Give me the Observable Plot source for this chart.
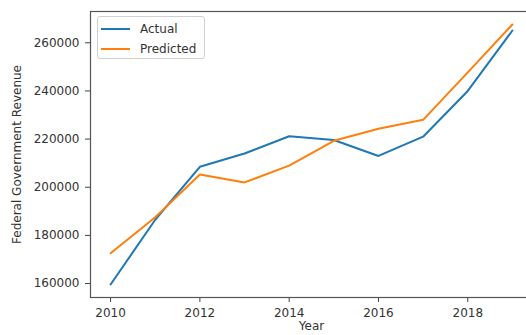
<!DOCTYPE html>
<html>
<head>
<meta charset="utf-8">
<script src="https://cdn.jsdelivr.net/npm/d3@7"></script>
<script src="https://cdn.jsdelivr.net/npm/@observablehq/plot@0.6"></script>
<style>
  html, body { margin: 0; padding: 0; background: #fff; overflow: hidden; }
  #wrap { position: relative; width: 526px; height: 335px; overflow: hidden; }
  .legend { position: absolute; left: 97px; top: 16px; width: 108px; height: 43px;
    border: 1px solid #d0d0d0; border-radius: 3px; background: rgba(255,255,255,0.85);
    font-family: "DejaVu Sans", sans-serif; font-size: 12px; color: #333; box-sizing: border-box; }
  .legend .row { position: absolute; left: 3px; height: 16px; display: flex; align-items: center; }
  .legend .row span { margin-left: 10px; }
</style>
</head>
<body>
<div id="wrap"></div>
<script>
const years = [2010, 2011, 2012, 2013, 2014, 2015, 2016, 2017, 2018, 2019];
const actual = [159600, 186500, 208500, 214000, 221200, 219600, 213000, 221000, 240000, 265100];
const predicted = [172600, 187500, 205300, 202000, 209000, 219300, 224300, 228000, 247700, 267600];
const seriesNames = ["Actual", "Predicted"];
const seriesColors = ["#1f77b4", "#ff7f0e"];
const xTicks = [2010, 2012, 2014, 2016, 2018];
const yTicks = [160000, 180000, 200000, 220000, 240000, 260000];

const rows = [];
years.forEach((y, i) => {
  rows.push({year: y, value: actual[i], series: seriesNames[0]});
  rows.push({year: y, value: predicted[i], series: seriesNames[1]});
});

const allVals = actual.concat(predicted);
const yMin = d3.min(allVals), yMax = d3.max(allVals);
const yPad = (yMax - yMin) * 0.05;
const xPad = (d3.max(years) - d3.min(years)) * 0.05;

const chart = Plot.plot({
  width: 526,
  height: 335,
  marginLeft: 90,
  marginTop: 11,
  marginBottom: 38,
  marginRight: -6,
  style: {fontFamily: "DejaVu Sans, sans-serif", fontSize: "12px", color: "#333", background: "#fff"},
  x: {domain: [d3.min(years) - xPad, d3.max(years) + xPad], ticks: xTicks, tickFormat: "d", label: null},
  y: {domain: [yMin - yPad, yMax + yPad], ticks: yTicks, tickFormat: "d", label: null},
  color: {domain: seriesNames, range: seriesColors},
  marks: [
    Plot.axisX({ticks: xTicks, tickFormat: "d", tickSize: 5, tickPadding: 6, stroke: "#444", fill: "#333"}),
    Plot.axisY({ticks: yTicks, tickFormat: "d", tickSize: 5, tickPadding: 6, stroke: "#444", fill: "#333"}),
    Plot.frame({stroke: "#555", strokeWidth: 1.2}),
    Plot.line(rows, {x: "year", y: "value", z: "series", stroke: "series", strokeWidth: 2, strokeLinejoin: "round"}),
    Plot.text(["Federal Government Revenue"], {frameAnchor: "left", dx: -73, rotate: -90, textAnchor: "middle", lineAnchor: "middle", fill: "#333", fontSize: 12}),
    Plot.text(["Year"], {frameAnchor: "bottom", dy: 24, textAnchor: "middle", lineAnchor: "top", fill: "#333", fontSize: 12})
  ]
});
const wrap = document.getElementById("wrap");
wrap.appendChild(chart);

const legend = document.createElement("div");
legend.className = "legend";
seriesNames.forEach((name, i) => {
  const row = document.createElement("div");
  row.className = "row";
  row.style.top = (4 + i * 20) + "px";
  row.innerHTML = `<svg width="29" height="4"><line x1="0" y1="2" x2="29" y2="2" stroke="${seriesColors[i]}" stroke-width="2"/></svg><span>${name}</span>`;
  legend.appendChild(row);
});
wrap.appendChild(legend);
</script>
</body>
</html>
